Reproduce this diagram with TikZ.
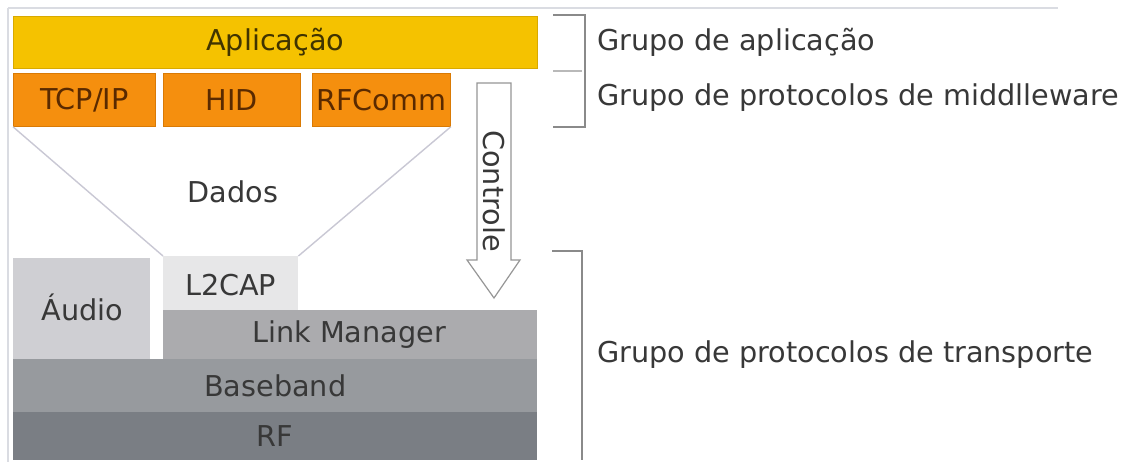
\documentclass[tikz,border=0pt]{standalone}
\usepackage{fontspec}
\setmainfont{DejaVu Sans}
\definecolor{appfill}{HTML}{F5C200}
\definecolor{appedge}{HTML}{D8A900}
\definecolor{midfill}{HTML}{F58F0E}
\definecolor{midedge}{HTML}{D97A05}
\definecolor{midtext}{HTML}{5A2A00}
\definecolor{apptext}{HTML}{403400}
\definecolor{l2fill}{HTML}{E7E7E8}
\definecolor{audfill}{HTML}{CFCFD3}
\definecolor{lmfill}{HTML}{ABABAE}
\definecolor{bbfill}{HTML}{979A9E}
\definecolor{rffill}{HTML}{7A7E84}
\definecolor{txt}{HTML}{383838}
\definecolor{frame}{HTML}{DADCE2}
\definecolor{fan}{HTML}{C9C8D4}
\definecolor{brk}{HTML}{8A8A8A}
\begin{document}
\begin{tikzpicture}[x=1pt,y=-1pt,
  every node/.style={font=\fontsize{28.7}{31}\selectfont, text=txt, inner sep=0pt},
  layer/.style={anchor=north west, draw=none},
  appbox/.style={layer, fill=appfill, draw=appedge, line width=0.8pt},
  midbox/.style={layer, fill=midfill, draw=midedge, line width=0.8pt},
  greybox/.style={layer},
  fanline/.style={draw=fan, line width=1.4pt},
  bracket/.style={draw=brk, line width=1.3pt},
  grouplabel/.style={anchor=west, text=txt}]
\useasboundingbox[fill=white] (0,0) rectangle (1124,462);

% faint outer frame
\draw[frame, line width=1.2pt] (8,8) -- (1058,8);
\draw[frame, line width=1.2pt] (8,8) -- (8,462);

% application layer
\node[appbox, minimum width=524pt, minimum height=52pt] (app) at (13,16) {};
\node at (app.center) {\textcolor{apptext}{Aplicação}};

% middleware protocols
\node[midbox, minimum width=142pt, minimum height=53pt] (tcp) at (13,73) {};
\node at (tcp.center) {\textcolor{midtext}{TCP/IP}};
\node[midbox, minimum width=137pt, minimum height=53pt] (hid) at (163,73) {};
\node at (hid.center) {\textcolor{midtext}{HID}};
\node[midbox, minimum width=138pt, minimum height=53pt] (rfc) at (312,73) {};
\node at (rfc.center) {\textcolor{midtext}{RFComm}};

% transport stack
\node[greybox, fill=l2fill, minimum width=135pt, minimum height=55pt] (l2) at (163,256) {};
\node at ([yshift=-1pt]l2.center) {L2CAP};
\node[greybox, fill=audfill, minimum width=137pt, minimum height=101pt] (aud) at (13,258) {};
\node at ([xshift=1pt,yshift=1pt]aud.center) {Áudio};
\node[greybox, fill=lmfill, minimum width=374pt, minimum height=49pt] (lm) at (163,310) {};
\node at ([xshift=-1pt]lm.center) {Link Manager};
\node[greybox, fill=bbfill, minimum width=524pt, minimum height=53pt] (bb) at (13,359) {};
\node at (bb.center) {Baseband};
\node[greybox, fill=rffill, minimum width=524pt, minimum height=48pt] (rf) at (13,412) {};
\node at (rf.center) {RF};

% data funnel
\draw[fanline] (tcp.south west) -- (l2.north west);
\draw[fanline] (rfc.south east) -- (l2.north east);
\node (dados) at (233,192) {Dados};

% control arrow
\draw[draw=brk!90, fill=white, line width=1.2pt]
  (477,83) -- (511,83) -- (511,260) -- (520,260) -- (494,298)
  -- (467,260) -- (477,260) -- cycle;
\node[rotate=-90] (ctrl) at (494,191) {Controle};

% group brackets
\draw[bracket] (553,15) -- (585,15) -- (585,127) -- (553,127);
\draw[draw=brk!60, line width=2.5pt] (553,71) -- (582,71);
\draw[bracket] (552,251) -- (582,251) -- (582,460);
\node[grouplabel] (g1) at (597,42) {Grupo de aplicação};
\node[grouplabel] (g2) at (597,98) {Grupo de protocolos de middlleware};
\node[grouplabel] (g3) at (597,355) {Grupo de protocolos de transporte};
\end{tikzpicture}
\end{document}
